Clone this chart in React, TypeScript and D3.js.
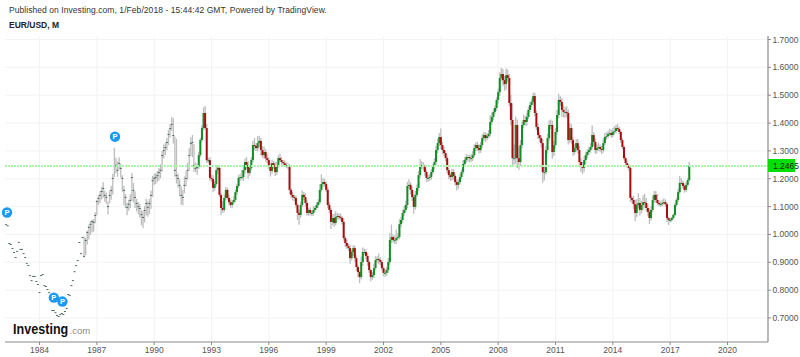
import React from "react";
import * as d3 from "d3";

const title = "Published on Investing.com, 1/Feb/2018 - 15:44:42 GMT, Powered by TradingView.";
const symbol = "EUR/USD, M";
const yTicks = [1.7, 1.6, 1.5, 1.4, 1.3, 1.2, 1.1, 1.0, 0.9, 0.8, 0.7];
const xTicks = [1984, 1987, 1990, 1993, 1996, 1999, 2002, 2005, 2008, 2011, 2014, 2017, 2020];
const firstMonth = 1982.25;
const firstColouredIndex = 120;
const lastPrice = 1.2465;

const pins = [
  { t: 1982.3, p: 1.079 },
  { t: 1984.75, p: 0.773 },
  { t: 1985.2, p: 0.759 },
  { t: 1987.95, p: 1.351 },
];

const closes = [
  1.037,1.033,0.969,0.966,0.951,0.937,0.919,0.941,0.973,0.948,
  0.948,0.933,0.919,0.898,0.890,0.854,0.836,0.851,0.851,0.833,
  0.822,0.793,0.854,0.858,0.818,0.815,0.804,0.793,0.778,0.729,
  0.729,0.721,0.711,0.707,0.714,0.718,0.714,0.725,0.736,0.786,
  0.783,0.818,0.836,0.868,0.890,0.908,0.973,0.933,0.991,0.923,
  0.980,1.009,1.027,1.038,1.048,1.045,1.070,1.120,1.131,1.142,
  1.156,1.167,1.142,1.135,1.102,1.142,1.160,1.203,1.246,1.250,
  1.232,1.257,1.239,1.203,1.160,1.135,1.099,1.110,1.124,1.206,
  1.160,1.135,1.113,1.102,1.095,1.073,1.063,1.088,1.113,1.099,
  1.113,1.142,1.195,1.203,1.206,1.213,1.224,1.232,1.285,1.303,
  1.314,1.332,1.361,1.382,1.397,1.357,1.232,1.213,1.203,1.178,
  1.142,1.135,1.178,1.203,1.232,1.285,1.328,1.332,1.250,1.239,
  1.243,1.285,1.339,1.382,1.436,1.382,1.267,1.267,1.203,1.199,
  1.167,1.181,1.231,1.239,1.142,1.095,1.088,1.131,1.160,1.131,
  1.116,1.106,1.116,1.124,1.152,1.174,1.203,1.206,1.206,1.231,
  1.260,1.249,1.221,1.239,1.267,1.321,1.318,1.310,1.328,1.336,
  1.303,1.285,1.296,1.274,1.267,1.249,1.228,1.256,1.249,1.224,
  1.249,1.274,1.267,1.260,1.256,1.249,1.249,1.242,1.160,1.142,
  1.134,1.131,1.106,1.077,1.070,1.106,1.142,1.134,1.113,1.077,
  1.088,1.077,1.077,1.088,1.095,1.106,1.116,1.160,1.181,1.188,
  1.181,1.160,1.106,1.088,1.045,1.059,1.041,1.063,1.066,1.063,
  1.059,1.045,0.987,0.969,0.958,0.951,0.915,0.937,0.951,0.915,
  0.883,0.865,0.847,0.901,0.937,0.937,0.923,0.901,0.872,0.847,
  0.854,0.879,0.908,0.912,0.908,0.901,0.879,0.862,0.862,0.872,
  0.901,0.980,0.991,0.980,0.980,0.987,0.991,1.037,1.052,1.077,
  1.088,1.106,1.174,1.178,1.160,1.134,1.099,1.142,1.167,1.213,
  1.249,1.249,1.242,1.224,1.203,1.203,1.206,1.224,1.242,1.260,
  1.303,1.328,1.350,1.321,1.303,1.292,1.274,1.231,1.213,1.206,
  1.224,1.210,1.188,1.178,1.188,1.206,1.224,1.253,1.267,1.278,
  1.278,1.274,1.274,1.285,1.310,1.321,1.310,1.303,1.321,1.346,
  1.357,1.346,1.353,1.361,1.404,1.422,1.440,1.454,1.483,1.511,
  1.562,1.576,1.554,1.540,1.572,1.562,1.472,1.411,1.274,1.274,
  1.393,1.274,1.260,1.321,1.393,1.411,1.404,1.422,1.447,1.465,
  1.476,1.497,1.436,1.386,1.357,1.346,1.328,1.224,1.224,1.303,
  1.346,1.393,1.393,1.296,1.321,1.368,1.429,1.483,1.476,1.447,
  1.440,1.440,1.436,1.339,1.382,1.339,1.296,1.310,1.328,1.303,
  1.260,1.249,1.239,1.267,1.285,1.296,1.303,1.314,1.357,1.332,
  1.303,1.310,1.314,1.307,1.303,1.328,1.350,1.353,1.361,1.364,
  1.357,1.368,1.371,1.382,1.379,1.368,1.339,1.314,1.274,1.256,
  1.246,1.239,1.131,1.124,1.109,1.077,1.106,1.113,1.088,1.106,
  1.116,1.113,1.095,1.081,1.059,1.088,1.124,1.142,1.124,1.113,
  1.109,1.109,1.113,1.116,1.109,1.059,1.052,1.052,1.059,1.070,
  1.106,1.124,1.152,1.185,1.185,1.174,1.160,1.178,1.195,1.2465,
];

// wick lengths above the body / below the body, in thousandths of a dollar
const wickUp = [
  0,0,0,0,0,0,0,0,0,0, 0,0,0,0,0,0,0,0,0,0, 0,0,0,0,0,0,0,0,0,0,
  0,0,0,0,0,0,0,0,0,0, 0,0,0,0,0,0,0,0,0,70,
  8,5,8,10,5,10,10,4,10,15,
  15,20,15,15,15,15,15,15,65,25,
  30,20,15,10,15,10,15,15,20,15,
  25,20,15,15,15,15,20,15,15,20,
  15,15,15,15,15,15,15,20,15,20,
  15,15,15,15,25,60,120,130,15,20,
  30,25,30,25,25,25,20,25,75,20,
  10,12,8,10,20,25,15,8,10,12,
  14,10,14,10,10,8,25,12,10,8,
  12,10,8,14,10,8,10,12,25,15,
  12,18,14,10,10,15,25,10,25,18,
  10,14,20,10,14,10,8,12,8,10,
  12,10,16,12,8,10,10,8,10,6,
  10,8,10,6,12,12,16,10,14,10,
  8,10,8,14,8,10,10,20,35,14,
  12,8,10,10,8,14,16,20,10,10,
  12,8,14,8,12,10,12,8,10,8,
  10,8,5,20,16,12,10,10,8,5,
  12,16,14,10,20,10,8,6,14,12,
  14,25,45,10,16,30,14,18,12,12,
  14,16,14,20,10,12,10,14,12,14,
  22,14,10,8,8,12,10,10,12,14,
  14,16,14,30,12,12,10,8,8,8,
  12,10,8,8,10,10,10,14,10,10,
  8,8,14,14,14,10,12,14,12,14,
  12,10,10,14,25,16,12,10,10,12,
  20,22,18,15,24,20,14,30,60,50,
  30,20,40,18,12,20,14,15,12,12,
  12,12,12,10,12,10,10,15,20,15,
  16,16,20,15,15,14,18,22,14,14,
  18,18,20,14,18,14,10,14,14,16,
  14,14,12,14,12,10,12,14,35,10,
  12,14,16,10,12,16,14,14,12,16,
  12,14,18,12,16,8,6,8,6,6,
  10,6,8,8,14,16,20,35,18,15,
  25,30,18,14,12,14,16,14,14,22,
  10,10,12,14,10,6,5,8,5,5,
  6,8,12,25,18,8,8,10,8,14,
];

const wickDown = [
  0,0,0,0,0,0,0,0,0,0, 0,0,0,0,0,0,0,0,0,0, 0,0,0,0,0,0,0,0,0,0,
  0,0,0,0,0,0,0,0,0,0, 0,0,0,0,0,0,0,0,0,5,
  55,45,45,40,40,35,30,50,25,30,
  30,35,25,25,30,30,35,60,40,30,
  25,25,35,50,55,40,30,25,30,85,
  45,40,30,30,35,40,40,45,45,35,
  40,50,60,25,25,25,30,30,60,30,
  30,30,40,35,25,30,25,30,35,40,
  35,30,30,30,35,55,45,55,25,15,
  25,8,8,8,8,5,10,10,12,10,
  15,10,8,15,8,25,10,8,8,6,
  12,10,10,8,8,10,8,12,10,14,
  12,16,20,10,8,8,15,10,12,14,
  20,10,14,12,10,14,20,10,14,14,
  10,10,8,10,8,6,10,8,15,12,
  12,12,10,25,35,10,8,10,14,10,
  10,8,12,10,8,6,10,8,8,10,
  10,8,12,12,25,12,14,8,8,10,
  8,10,10,14,10,10,20,8,14,14,
  15,20,22,8,14,10,12,14,10,15,
  10,10,8,10,14,12,8,12,14,10,
  10,10,12,10,14,14,10,8,12,10,
  10,10,12,8,16,14,25,10,8,12,
  10,14,12,14,14,14,10,10,8,8,
  10,12,10,14,14,10,12,10,14,14,
  12,14,12,20,14,8,8,8,10,10,
  16,14,14,10,8,10,10,12,10,10,
  10,14,8,8,10,10,12,8,10,14,
  14,10,22,24,20,14,12,18,28,24,
  20,35,28,14,12,10,14,14,8,8,
  8,10,12,12,14,14,16,38,30,10,
  12,12,14,24,14,12,10,12,14,24,
  20,20,16,16,10,16,14,10,12,12,
  18,25,22,14,14,12,12,10,8,14,
  14,12,10,12,14,10,8,10,8,8,
  10,8,10,8,8,8,10,8,8,8,
  8,10,14,12,18,30,14,12,20,12,
  20,18,12,14,22,10,8,10,10,8,
  8,10,8,8,10,14,18,8,6,6,
  5,6,8,6,6,8,10,8,6,4,
];

const W = 800, H = 357;
const left = 5, right = 768, top = 36, bottom = 342;
const sans = "'Liberation Sans', Arial, sans-serif";

const x = d3.scaleLinear().domain([1984, 2020]).range([39.5, 727.5]);
const y = d3.scaleLinear().domain([0.7, 1.7]).range([318, 39.5]);

const candles = closes.map((c, i) => {
  const coloured = i >= firstColouredIndex;
  const o = coloured ? closes[i - 1] : c;
  return {
    t: firstMonth + i / 12,
    o,
    c,
    hi: Math.max(o, c) + wickUp[i] / 1000,
    lo: Math.min(o, c) - wickDown[i] / 1000,
    coloured,
  };
});

export default function App() {
  const priceY = Math.floor(y(lastPrice)) + 0.5;
  return (
    <svg width={W} height={H} viewBox={`0 0 ${W} ${H}`}
      style={{ position: "absolute", left: 0, top: 0, background: "#fff" }}>
      <defs>
        <filter id="soft" x="-5%" y="-5%" width="110%" height="110%">
          <feGaussianBlur stdDeviation="0.25" />
        </filter>
      </defs>
      <g stroke="#f3f3f3" strokeWidth={1}>
        {yTicks.map((t) => <line key={t} x1={left} x2={right} y1={y(t)} y2={y(t)} />)}
        {xTicks.map((t) => <line key={t} x1={x(t)} x2={x(t)} y1={bottom} y2={top} />)}
      </g>

      <g filter="url(#soft)">
        {candles.map((d, i) => {
          const cx = x(d.t);
          return d.hi > d.lo ? (
            <line key={i} x1={cx} x2={cx} y1={y(d.hi)} y2={y(d.lo)}
              stroke="#bdbdbd" strokeWidth={1.3} />
          ) : null;
        })}
        {candles.map((d, i) => {
          const cx = x(d.t);
          const top2 = y(Math.max(d.o, d.c));
          const h = Math.max(y(Math.min(d.o, d.c)) - top2, 1);
          const fill = !d.coloured ? "#4f6b60" : d.c >= d.o ? "#0c8f20" : "#a81010";
          return <rect key={i} x={cx - 1} width={2} y={top2} height={h} fill={fill} />;
        })}
      </g>

      <line x1={left} x2={right} y1={Math.floor(priceY) + 1} y2={Math.floor(priceY) + 1}
        stroke="#a6faa6" strokeWidth={2} strokeDasharray="2 1" />

      <g stroke="#8a8a8a" strokeWidth={1.2} fill="none">
        <line x1={right} x2={right} y1={top} y2={bottom} />
        <line x1={left} x2={right} y1={bottom} y2={bottom} />
      </g>
      <g stroke="#8a8a8a" strokeWidth={1}>
        {yTicks.map((t) => <line key={t} x1={right} x2={right + 3} y1={y(t)} y2={y(t)} />)}
        {xTicks.map((t) => <line key={t} x1={x(t)} x2={x(t)} y1={bottom} y2={bottom + 3} />)}
      </g>

      <g fontFamily={sans} fontSize={8.5} fill="#555">
        {yTicks.map((t) => (
          <text key={t} x={right + 4.5} y={y(t) + 3}>{t.toFixed(4)}</text>
        ))}
        {xTicks.map((t) => (
          <text key={t} x={x(t)} y={352.5} textAnchor="middle">{t}</text>
        ))}
      </g>

      <rect x={right} y={priceY - 6.5} width={27} height={13} fill="#00e000" />
      <text x={right + 5} y={priceY + 3} fontFamily={sans} fontSize={8.5} fill="#222">
        {lastPrice.toFixed(4)}
      </text>

      {pins.map((p, i) => (
        <g key={i}>
          <circle cx={x(p.t)} cy={y(p.p)} r={5.2} fill="#1a9af5" />
          <text x={x(p.t)} y={y(p.p) + 2.6} textAnchor="middle" fontFamily={sans}
            fontSize={7.5} fontWeight="bold" fill="#fff">P</text>
        </g>
      ))}

      <text x={9} y={13} fontFamily={sans} fontSize={8.5} fill="#333" letterSpacing={0.06}>{title}</text>
      <text x={9} y={28} fontFamily={sans} fontSize={8.5} fontWeight="bold" fill="#222">{symbol}</text>

      <text transform="translate(13,334) scale(0.84,1)" fontFamily={sans} fontSize={15}
        fontWeight="bold" fill="#111">Investing</text>
      <text x={69.5} y={334} fontFamily={sans} fontSize={9.5} fill="#888">.com</text>
    </svg>
  );
}
